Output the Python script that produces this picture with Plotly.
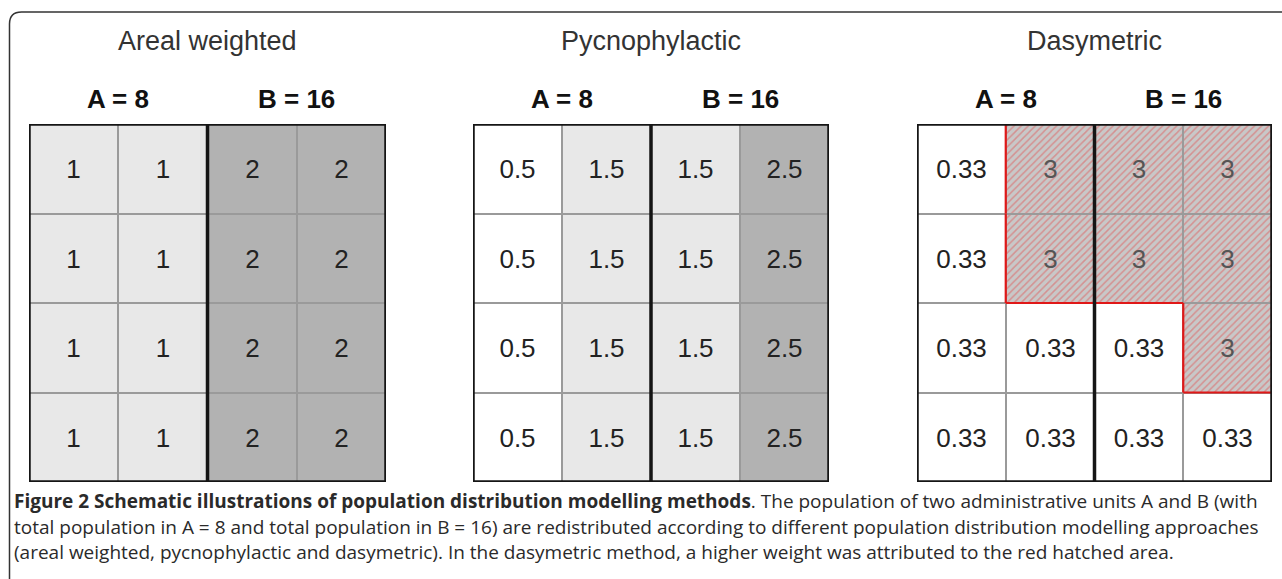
import plotly.graph_objects as go

# ---------------- data ----------------
panel_titles = ["Areal weighted", "Pycnophylactic", "Dasymetric"]
unit_labels = ["A = 8", "B = 16"]

areal_values = [["1", "1", "2", "2"]] * 4
pycno_values = [["0.5", "1.5", "1.5", "2.5"]] * 4
dasy_values = [
    ["0.33", "3", "3", "3"],
    ["0.33", "3", "3", "3"],
    ["0.33", "0.33", "0.33", "3"],
    ["0.33", "0.33", "0.33", "0.33"],
]
# shade class per cell: 0 white, 1 light gray, 2 dark gray, 3 hatched (higher weight)
areal_shade = [[1, 1, 2, 2]] * 4
pycno_shade = [[0, 1, 1, 2]] * 4
dasy_shade = [
    [0, 3, 3, 3],
    [0, 3, 3, 3],
    [0, 0, 0, 3],
    [0, 0, 0, 0],
]

caption_lines = [
    "<b>Figure 2 Schematic illustrations of population distribution modelling methods</b>. The population of two administrative units A and B (with",
    "total population in A = 8 and total population in B = 16) are redistributed according to different population distribution modelling approaches",
    "(areal weighted, pycnophylactic and dasymetric). In the dasymetric method, a higher weight was attributed to the red hatched area.",
]

# ---------------- style ----------------
W, H = 1282, 579
shade_color = {0: "#ffffff", 1: "#e8e8e8", 2: "#b2b2b2", 3: "#c8c8c8"}
text_color = {0: "#222222", 1: "#222222", 2: "#222222", 3: "#555555"}
grid_px = [(29, 386), (473, 829), (917, 1272)]
grid_top, grid_bottom = 124, 482
NUM_FONT = "Liberation Sans, Arial, sans-serif"

panels = [
    (areal_values, areal_shade),
    (pycno_values, pycno_shade),
    (dasy_values, dasy_shade),
]

fig = go.Figure()
shapes = []
annotations = []

for p, (vals, shade) in enumerate(panels):
    nrows = len(vals)
    ncols = len(vals[0])
    xa = "x" if p == 0 else f"x{p+1}"
    ya = "y" if p == 0 else f"y{p+1}"
    for k in sorted({s for row in shade for s in row}):
        xs, bs, ts = [], [], []
        for r in range(nrows):
            for c in range(ncols):
                if shade[r][c] == k:
                    xs.append(c + 0.5)
                    bs.append(nrows - 1 - r)
                    ts.append(vals[r][c])
        marker = dict(color=shade_color[k], line=dict(color="#9a9a9a", width=2))
        if k == 3:
            marker["pattern"] = dict(shape="/", fillmode="overlay", fgcolor="#dc6a6a",
                                     fgopacity=0.6, size=5, solidity=0.3)
        fig.add_trace(go.Bar(
            x=xs, y=[1] * len(xs), base=bs, width=[1] * len(xs),
            text=ts, textposition="inside", insidetextanchor="middle",
            textangle=0, constraintext="none",
            textfont=dict(family=NUM_FONT, size=26, color=text_color[k]),
            marker=marker, hoverinfo="skip", showlegend=False,
            xaxis=xa, yaxis=ya,
        ))

    # thick outer border and unit split
    shapes.append(dict(type="rect", xref=xa, yref=ya, x0=0, x1=ncols, y0=0, y1=nrows,
                       line=dict(color="#151515", width=3.5), layer="above"))
    shapes.append(dict(type="line", xref=xa, yref=ya, x0=ncols / 2, x1=ncols / 2, y0=0, y1=nrows,
                       line=dict(color="#151515", width=3.5), layer="above"))

    # red outline around hatched cells, built from the mask
    ex, ey = [], []

    def hatched(rr, cc):
        return 0 <= rr < nrows and 0 <= cc < ncols and shade[rr][cc] == 3

    for r in range(nrows):
        for c in range(ncols):
            if shade[r][c] != 3:
                continue
            yb = nrows - 1 - r
            if not hatched(r - 1, c):
                ex += [c, c + 1, None]; ey += [yb + 1, yb + 1, None]
            if not hatched(r + 1, c):
                ex += [c, c + 1, None]; ey += [yb, yb, None]
            if not hatched(r, c - 1):
                ex += [c, c, None]; ey += [yb, yb + 1, None]
            if not hatched(r, c + 1):
                ex += [c + 1, c + 1, None]; ey += [yb, yb + 1, None]
    if ex:
        fig.add_trace(go.Scatter(x=ex, y=ey, mode="lines",
                                 line=dict(color="#e01818", width=2.2),
                                 hoverinfo="skip", showlegend=False,
                                 xaxis=xa, yaxis=ya))

    # titles and unit labels
    annotations.append(dict(text=panel_titles[p], xref=xa, yref="paper",
                            x=ncols / 2, y=1 - 41 / H, showarrow=False,
                            font=dict(family=NUM_FONT, size=27, color="#333333"),
                            xanchor="center", yanchor="middle"))
    for h, lab in enumerate(unit_labels):
        annotations.append(dict(text=f"<b>{lab}</b>", xref=xa, yref="paper",
                                x=ncols / 4 + h * ncols / 2, y=1 - 99 / H, showarrow=False,
                                font=dict(family=NUM_FONT, size=26, color="#111111"),
                                xanchor="center", yanchor="middle"))

# caption
for i, line in enumerate(caption_lines):
    annotations.append(dict(text=line, xref="paper", yref="paper",
                            x=12 / W, y=1 - (501 + 25.5 * i) / H,
                            xanchor="left", yanchor="middle", showarrow=False,
                            font=dict(family="Open Sans, sans-serif", size=19, color="#2a2a2a")))

# outer frame (left edge and top edge with rounded corner)
fx, fy, rad = 9.5, 12, 12
px = lambda v: v / W
py = lambda v: 1 - v / H
frame_path = (f"M {px(fx)},{py(H + 2)} L {px(fx)},{py(fy + rad)} "
              f"Q {px(fx)},{py(fy)} {px(fx + rad)},{py(fy)} L {px(W + 2)},{py(fy)}")
shapes.append(dict(type="path", xref="paper", yref="paper", path=frame_path,
                   line=dict(color="#333333", width=1.5)))

layout = dict(
    width=W, height=H,
    margin=dict(l=0, r=0, t=0, b=0),
    paper_bgcolor="white", plot_bgcolor="white",
    barmode="overlay", bargap=0,
    shapes=shapes, annotations=annotations,
    showlegend=False,
)
for p in range(3):
    sx = "" if p == 0 else str(p + 1)
    x0, x1 = grid_px[p]
    layout[f"xaxis{sx}"] = dict(domain=[x0 / W, x1 / W], range=[0, 4], visible=False,
                                fixedrange=True, anchor=f"y{sx}")
    layout[f"yaxis{sx}"] = dict(domain=[1 - grid_bottom / H, 1 - grid_top / H], range=[0, 4],
                                visible=False, fixedrange=True, anchor=f"x{sx}")
fig.update_layout(**layout)
fig.write_html("out.html", config={"displayModeBar": False},
               post_script="document.body.style.margin='0';document.body.style.overflow='hidden';")
